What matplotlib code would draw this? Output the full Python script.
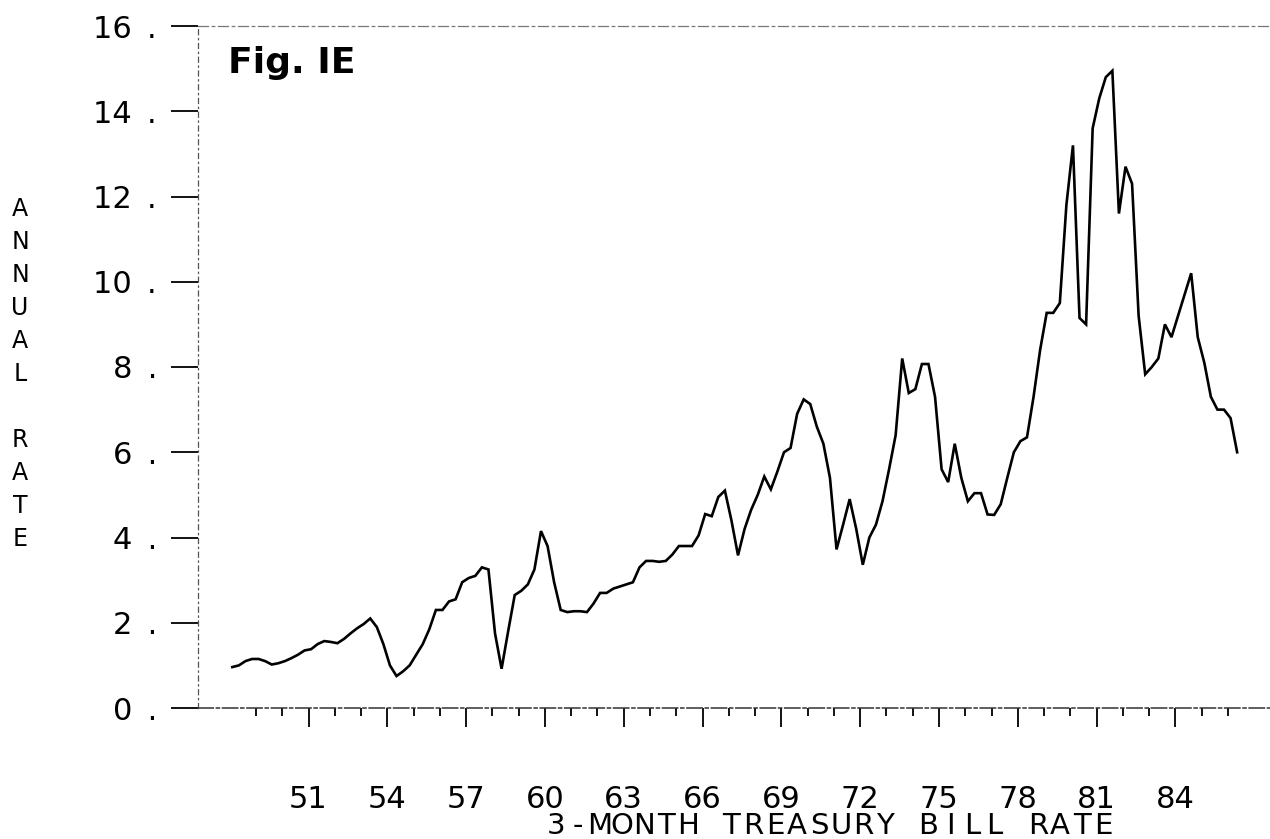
import matplotlib
matplotlib.use("Agg")
import matplotlib.pyplot as plt
import numpy as np
import pandas as pd

# quarterly 3-month treasury bill rate, 1948Q1 .. 1986Q2
quarters = pd.period_range("1948Q1", "1986Q2", freq="Q")
rates = [
    0.96, 1.00, 1.10, 1.15,     # 48
    1.15, 1.10, 1.02, 1.05,     # 49
    1.10, 1.17, 1.25, 1.35,     # 50
    1.38, 1.50, 1.57, 1.55,     # 51
    1.52, 1.62, 1.75, 1.87,     # 52
    1.97, 2.10, 1.90, 1.50,     # 53
    1.00, 0.75, 0.86, 1.00,     # 54
    1.25, 1.50, 1.85, 2.30,     # 55
    2.30, 2.50, 2.55, 2.95,     # 56
    3.05, 3.10, 3.30, 3.25,     # 57
    1.75, 0.92, 1.80, 2.65,     # 58
    2.75, 2.90, 3.25, 4.15,     # 59
    3.80, 2.95, 2.30, 2.25,     # 60
    2.27, 2.27, 2.25, 2.45,     # 61
    2.70, 2.70, 2.80, 2.85,     # 62
    2.90, 2.95, 3.30, 3.45,     # 63
    3.45, 3.43, 3.45, 3.60,     # 64
    3.80, 3.80, 3.80, 4.05,     # 65
    4.55, 4.50, 4.95, 5.10,     # 66
    4.40, 3.58, 4.20, 4.65,     # 67
    5.00, 5.43, 5.13, 5.55,     # 68
    6.00, 6.10, 6.90, 7.24,     # 69
    7.13, 6.60, 6.20, 5.40,     # 70
    3.72, 4.30, 4.90, 4.20,     # 71
    3.36, 4.00, 4.30, 4.85,     # 72
    5.60, 6.40, 8.20, 7.39,     # 73
    7.48, 8.07, 8.07, 7.30,     # 74
    5.60, 5.30, 6.20, 5.40,     # 75
    4.85, 5.04, 5.04, 4.54,     # 76
    4.53, 4.78, 5.40, 6.00,     # 77
    6.26, 6.35, 7.30, 8.40,     # 78
    9.27, 9.27, 9.50, 11.80,    # 79
    13.20, 9.15, 9.00, 13.60,   # 80
    14.30, 14.80, 14.95, 11.60, # 81
    12.70, 12.30, 9.20, 7.83,   # 82
    8.00, 8.20, 9.00, 8.70,     # 83
    9.20, 9.70, 10.20, 8.70,    # 84
    8.10, 7.30, 7.00, 7.00,     # 85
    6.80, 6.00,                 # 86
]

year_ticks = list(range(51, 85, 3))
minor_years = list(range(49, 87))
rate_ticks = list(range(0, 17, 2))

plt.rcParams['font.family'] = ['DejaVu Sans']

# two-digit year with the quarter placed inside the year
t = np.array([(q.year % 100) + (q.quarter - 1) / 4 + 0.1 for q in quarters])

W, H = 1270, 839
fig = plt.figure(figsize=(W / 100, H / 100), dpi=100)
ax = fig.add_axes([198 / W, 1 - 708 / H, 1 - 198 / W, (708 - 26) / H])

ax.plot(t, rates, color='black', lw=1.9, solid_joinstyle='miter')

ax.set_xlim(51 - 110.5 / 26.27, 51 + (W - 308.5) / 26.27)
ax.set_ylim(0, 16)

# y axis: numbers followed by a dot, like the old plotter output
ax.set_yticks(rate_ticks)
ax.set_yticklabels([f"{v}\u2002." for v in rate_ticks])
ax.tick_params(axis='y', direction='out', length=19.5, width=1.3,
               pad=10, labelsize=22)

ax.set_xticks(year_ticks)
ax.set_xticklabels([str(y) for y in year_ticks])
ax.set_xticks(minor_years, minor=True)
ax.tick_params(axis='x', which='major', direction='out', length=13.5,
               width=1.3, pad=42, labelsize=22)
ax.tick_params(axis='x', which='minor', direction='out', length=6,
               width=1.3)

ax.spines['right'].set_visible(False)
ax.spines['top'].set_linestyle((0, (8, 3, 2, 3)))
ax.spines['top'].set_color('#777777')
ax.spines['top'].set_linewidth(0.9)
ax.spines['left'].set_linestyle((0, (4, 3, 1, 3)))
ax.spines['left'].set_color('#555555')
ax.spines['left'].set_linewidth(0.9)
ax.spines['bottom'].set_linestyle((0, (10, 2, 2, 2)))
ax.spines['bottom'].set_color('#333333')
ax.spines['bottom'].set_linewidth(1.1)

# stacked axis label on the left
ylabel = "ANNUAL RATE"
for row, ch in enumerate(ylabel):
    if ch != " ":
        fig.text(20 / W, 1 - (197 + 33 * row) / H, ch, ha='center', va='top',
                 fontsize=17)

# plotter lettering is monospaced and wide: one cell per character
xlabel = "3-MONTH TREASURY BILL RATE"
cell = 21.9
x0 = 830 - cell * len(xlabel) / 2
for i, ch in enumerate(xlabel):
    if ch != " ":
        fig.text((x0 + cell * (i + 0.5)) / W, 1 - 826 / H, ch,
                 ha='center', va='center', fontsize=21)

fig.text(228 / W, 1 - 46 / H, "Fig. IE", ha='left', va='top',
         fontsize=26, fontweight='bold')

fig.savefig("out.png", dpi=100)
